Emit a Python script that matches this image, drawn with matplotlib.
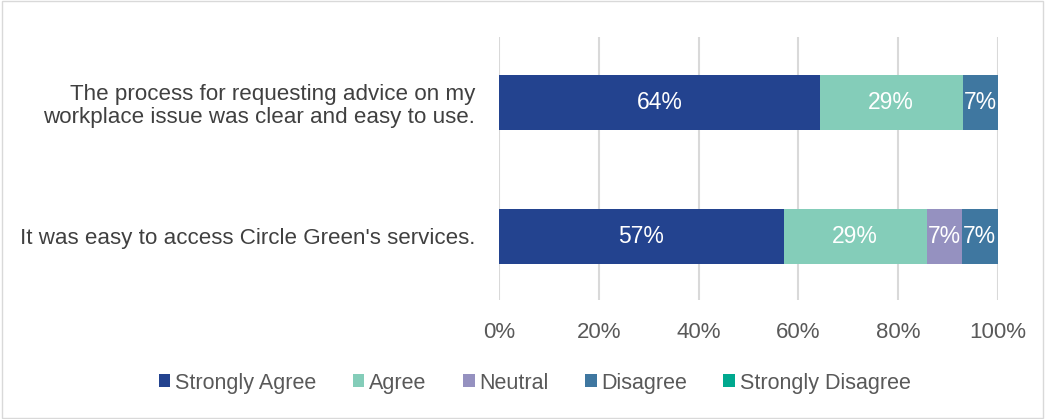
import matplotlib.pyplot as plt
import numpy as np

questions = [
    "It was easy to access Circle Green's services.",
    "The process for requesting advice on my\nworkplace issue was clear and easy to use.",
]
categories = ["Strongly Agree", "Agree", "Neutral", "Disagree", "Strongly Disagree"]
strongly_agree = [57.1, 64.3]
agree = [28.6, 28.6]
neutral = [7.1, 0.0]
disagree = [7.1, 7.1]
strongly_disagree = [0.0, 0.0]

colors = ["#23438F", "#84CDB9", "#9591C0", "#3F77A0", "#00A98F"]

series = [strongly_agree, agree, neutral, disagree, strongly_disagree]

plt.rcParams["font.family"] = ["Liberation Sans", "DejaVu Sans"]

fig = plt.figure(figsize=(10.45, 4.19), dpi=100)
ax = fig.add_axes([499 / 1045, 1 - 300 / 419, 499 / 1045, 263 / 419])

y = np.arange(len(questions))
left = np.zeros(len(questions))
for name, vals, c in zip(categories, series, colors):
    vals = np.array(vals)
    bars = ax.barh(y, vals, left=left, height=0.41, color=c, label=name)
    for b, v in zip(bars, vals):
        if v > 0:
            ax.text(b.get_x() + b.get_width() / 2, b.get_y() + b.get_height() / 2,
                    f"{v:.0f}%", ha="center", va="center", color="white",
                    fontsize=16.5)
    left += vals

ax.set_xlim(0, 100)
ax.set_ylim(-0.474, 1.489)
ax.set_xticks([0, 20, 40, 60, 80, 100])
ax.set_xticklabels([f"{t}%" for t in [0, 20, 40, 60, 80, 100]])
ax.set_yticks(y)
ax.set_yticklabels(questions, fontsize=16.1, color="#404040", ha="right",
                   linespacing=1.15)
ax.tick_params(axis="x", labelsize=16, colors="#595959", length=0, pad=16)
ax.tick_params(axis="y", length=0, pad=17)
ax.grid(axis="x", color="#D9D9D9", linewidth=1.5)
ax.set_axisbelow(True)
for s in ax.spines.values():
    s.set_visible(False)

handles, labels = ax.get_legend_handles_labels()
leg = fig.legend(handles, labels, loc="center",
                 bbox_to_anchor=(0.5 + 12 / 1045, 1 - 383 / 419),
                 ncol=5, frameon=False, fontsize=15.5, handlelength=0.55,
                 handleheight=0.55, handletextpad=0.2, columnspacing=1.7)
for t in leg.get_texts():
    t.set_color("#595959")

fig.patches.append(plt.Rectangle((0.002, 0.003), 0.996, 0.994, transform=fig.transFigure,
                                 fill=False, edgecolor="#D9D9D9", linewidth=1))

fig.savefig("out.png", dpi=100)
